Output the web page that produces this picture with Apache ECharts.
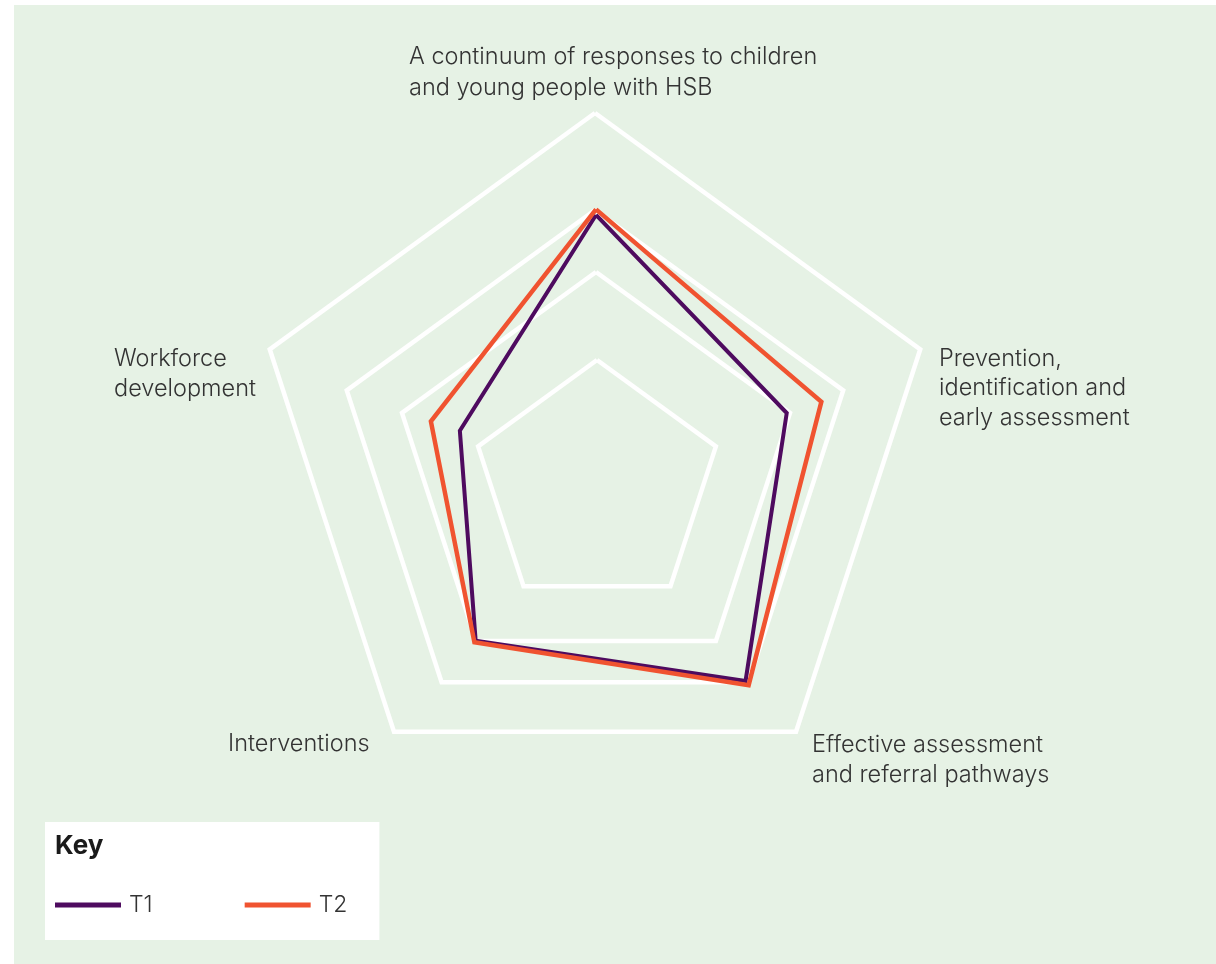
<!DOCTYPE html>
<html><head><meta charset="utf-8">
<script src="https://cdn.jsdelivr.net/npm/echarts@6/dist/echarts.min.js"></script>
<style>html,body{margin:0;padding:0;background:#fff}#c{width:1216px;height:964px}</style>
</head><body><div id="c"></div>
<script>
// Axes (counter-clockwise from the top, as ECharts lays them out)
const categories = [
  'A continuum of responses to children and young people with HSB',
  'Workforce development',
  'Interventions',
  'Effective assessment and referral pathways',
  'Prevention, identification and early assessment'
];
const axisLabelLines = [
  'A continuum of responses to children\nand young people with HSB',
  'Workforce\ndevelopment',
  'Interventions',
  'Effective assessment\nand referral pathways',
  'Prevention,\nidentification and\nearly assessment'
];
const seriesNames = ['T1', 'T2'];
const t1Values = [74.3, 40.9, 58.5, 72.7, 57.3];
const t2Values = [75.9, 49.6, 59.1, 74.2, 67.7];
const scaleMax = 100;

const FONT = 'Inter, "Noto Sans", sans-serif';
const TEXT = '#333333';
const GREEN = '#e6f2e5';
const PURPLE = '#4e0b5f';
const ORANGE = '#f05330';

// Decorative white pentagons (each its own radar frame)
const rings = [
  { center: [595, 455], radius: 342 },
  { center: [595, 471], radius: 261 },
  { center: [596, 476], radius: 204 },
  { center: [597, 485], radius: 125 }
];

function ringRadar(r) {
  return {
    center: r.center, radius: r.radius, startAngle: 90, splitNumber: 1, shape: 'polygon',
    indicator: categories.map(n => ({ name: n, min: 0, max: 1 })),
    axisName: { show: false },
    axisLine: { show: false }, axisTick: { show: false }, axisLabel: { show: false },
    splitArea: { show: false },
    splitLine: { show: true, lineStyle: { color: '#ffffff', width: 4.5, join: 'miter' } }
  };
}

const radars = rings.map(ringRadar);
radars.push({
  center: [596, 475], radius: 350, startAngle: 90, splitNumber: 1, shape: 'polygon',
  indicator: categories.map(n => ({ name: n, min: 0, max: scaleMax })),
  axisName: { show: false },
  axisLine: { show: false }, axisTick: { show: false }, axisLabel: { show: false },
  splitArea: { show: false }, splitLine: { show: false }
});

const labelPos = [
  { left: 409, top: 41, lh: 31 },
  { left: 114, top: 344, lh: 30 },
  { left: 228, top: 729, lh: 30 },
  { left: 812, top: 730, lh: 30 },
  { left: 939, top: 344, lh: 29.5 }
];

const titles = axisLabelLines.map((t, i) => ({
  text: t, left: labelPos[i].left, top: labelPos[i].top, padding: 0,
  textStyle: { fontFamily: FONT, fontSize: 23.5, fontWeight: 300, color: TEXT, lineHeight: labelPos[i].lh }
}));
titles.push({
  text: 'Key', left: 55, top: 833, padding: 0,
  textStyle: { fontFamily: FONT, fontSize: 26, fontWeight: 'bold', color: '#1a1a1a' }
});

const chart = echarts.init(document.getElementById('c'), null, { renderer: 'canvas' });
chart.setOption({
  animation: false,
  backgroundColor: '#ffffff',
  graphic: [{
    type: 'rect', left: 14, top: 5, z: -10,
    shape: { width: 1202, height: 959 },
    style: { fill: GREEN }
  }],
  title: titles,
  legend: {
    left: 45, top: 822, orient: 'horizontal',
    backgroundColor: '#ffffff',
    padding: [71, 32, 23, 10],
    itemWidth: 66, itemHeight: 5, itemGap: 92, icon: 'rect',
    data: seriesNames,
    textStyle: { fontFamily: FONT, fontSize: 23, fontWeight: 300, color: TEXT, lineHeight: 24, padding: [0, 0, 0, 3] }
  },
  radar: radars,
  series: [{
    type: 'radar', radarIndex: 4, symbol: 'none',
    data: [
      { name: seriesNames[0], value: t1Values,
        itemStyle: { color: PURPLE },
        lineStyle: { color: PURPLE, width: 4, join: 'miter' } },
      { name: seriesNames[1], value: t2Values,
        itemStyle: { color: ORANGE },
        lineStyle: { color: ORANGE, width: 4.5, join: 'miter' } }
    ]
  }]
});
</script>
</body></html>
